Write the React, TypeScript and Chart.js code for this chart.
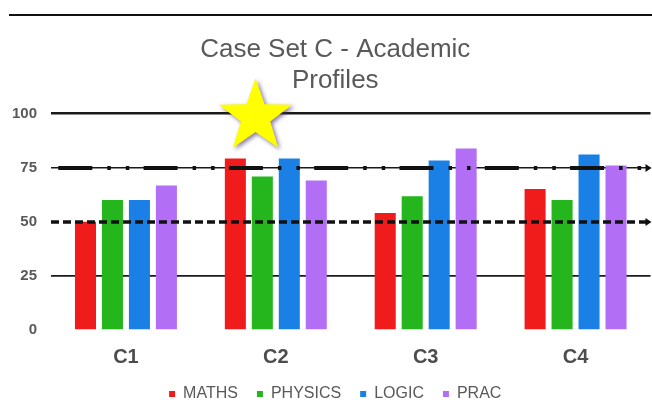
import React, { useEffect, useRef } from "react";
import { Chart, registerables } from "chart.js";

Chart.register(...registerables);

const TITLE_LINES = ["Case Set C - Academic", "Profiles"];
const CATEGORIES = ["C1", "C2", "C3", "C4"];
const SERIES_NAMES = ["MATHS", "PHYSICS", "LOGIC", "PRAC"];
const MATHS = [50, 79.2, 54, 65.1];
const PHYSICS = [60, 70.9, 61.7, 60];
const LOGIC = [60, 79.2, 78.2, 81];
const PRAC = [66.7, 69, 83.8, 75.9];
const Y_TICKS = [0, 25, 50, 75, 100];
const SOLID_GRID_VALUES = [25, 75, 100];
const TARGET_DASHDOT = 75;
const TARGET_DASHED = 50;
const STAR_CATEGORY = "C2";
const STAR_VALUE = 98.5;

const COLORS = ["#f01c1c", "#25b51c", "#1a80e6", "#b26ff5"];
const TEXT_GREY = "#595959";

function drawStar(ctx: CanvasRenderingContext2D, cx: number, cy: number, R: number) {
  const r = R * 0.4;
  ctx.beginPath();
  for (let i = 0; i < 10; i++) {
    const rad = i % 2 === 0 ? R : r;
    const a = -Math.PI / 2 + (i * Math.PI) / 5;
    const x = cx + rad * Math.cos(a);
    const y = cy + rad * Math.sin(a);
    if (i === 0) ctx.moveTo(x, y);
    else ctx.lineTo(x, y);
  }
  ctx.closePath();
}

const overlayPlugin = {
  id: "overlay",
  afterLayout(chart: any) {
    // let the y tick labels use the full left margin (no clipping)
    chart.scales.y.left = 0;
  },
  beforeDraw(chart: any) {
    const ctx = chart.ctx;
    ctx.save();
    ctx.fillStyle = "#ffffff";
    ctx.fillRect(0, 0, chart.width, chart.height);
    ctx.strokeStyle = "#111111";
    ctx.lineWidth = 2;
    ctx.beginPath();
    ctx.moveTo(9, 15);
    ctx.lineTo(chart.width, 15);
    ctx.stroke();
    ctx.restore();
  },
  afterDatasetsDraw(chart: any) {
    const ctx = chart.ctx;
    const y = chart.scales.y;
    const { left, right } = chart.chartArea;
    ctx.save();
    // dash-dot target line
    const y75 = Math.round(y.getPixelForValue(TARGET_DASHDOT));
    ctx.strokeStyle = "#111111";
    ctx.lineWidth = 4;
    ctx.setLineDash([34, 15, 3.5, 15, 3.5, 14.3]);
    ctx.lineDashOffset = 78;
    ctx.beginPath();
    ctx.moveTo(left, y75);
    ctx.lineTo(right - 4, y75);
    ctx.stroke();
    // dashed target line
    const y50 = Math.round(y.getPixelForValue(TARGET_DASHED));
    ctx.lineWidth = 3.5;
    ctx.setLineDash([8, 4]);
    ctx.lineDashOffset = 0;
    ctx.beginPath();
    ctx.moveTo(left, y50);
    ctx.lineTo(right - 4, y50);
    ctx.stroke();
    ctx.setLineDash([]);
    // arrow ends
    ctx.fillStyle = "#111111";
    [y75, y50].forEach((yy) => {
      ctx.beginPath();
      ctx.moveTo(right - 5, yy - 4);
      ctx.lineTo(right + 1, yy);
      ctx.lineTo(right - 5, yy + 4);
      ctx.closePath();
      ctx.fill();
    });
    ctx.restore();
  },
  afterDraw(chart: any) {
    const ctx = chart.ctx;
    const x = chart.scales.x;
    const y = chart.scales.y;
    const idx = CATEGORIES.indexOf(STAR_CATEGORY);
    const step = x.getPixelForValue(1) - x.getPixelForValue(0);
    const cx = x.getPixelForValue(idx) - step * 0.135;
    const cy = y.getPixelForValue(STAR_VALUE);
    ctx.save();
    ctx.shadowColor = "rgba(70,50,110,0.65)";
    ctx.shadowBlur = 4;
    ctx.shadowOffsetX = 2;
    ctx.shadowOffsetY = 2;
    ctx.fillStyle = "#ffff00";
    drawStar(ctx, cx, cy, 38.5);
    ctx.fill();
    ctx.restore();
  },
};

export default function App() {
  const canvasRef = useRef<HTMLCanvasElement | null>(null);

  useEffect(() => {
    if (!canvasRef.current) return;
    const seriesValues = [MATHS, PHYSICS, LOGIC, PRAC];
    const chart = new Chart(canvasRef.current, {
      type: "bar",
      data: {
        labels: CATEGORIES,
        datasets: SERIES_NAMES.map((name, i) => ({
          label: name,
          data: seriesValues[i],
          backgroundColor: COLORS[i],
          borderWidth: 0,
          categoryPercentage: 0.72,
          barPercentage: 0.78,
        })),
      },
      options: {
        responsive: false,
        animation: false,
        devicePixelRatio: 1,
        layout: { padding: { left: 20, right: 1.5, top: 0, bottom: 1 } },
        plugins: {
          title: {
            display: true,
            text: TITLE_LINES,
            color: TEXT_GREY,
            font: { family: "'Liberation Sans', Arial, sans-serif", size: 26, weight: "normal", lineHeight: 1.2 },
            padding: { top: 34, bottom: 17 },
          },
          legend: {
            position: "bottom",
            labels: {
              boxWidth: 6,
              boxHeight: 6,
              padding: 19,
              color: TEXT_GREY,
              font: { family: "'Liberation Sans', Arial, sans-serif", size: 16 },
            },
          },
          tooltip: { enabled: false },
        },
        scales: {
          x: {
            afterFit(scale: any) {
              scale.height = 37;
            },
            grid: { display: false, drawTicks: false },
            border: { display: false },
            ticks: {
              color: "#4d4d4d",
              padding: 15,
              font: { family: "'Liberation Sans', Arial, sans-serif", size: 20, weight: "bold" },
            },
          },
          y: {
            min: 0,
            max: 100,
            afterFit(scale: any) {
              scale.width = 31;
            },
            afterBuildTicks(scale: any) {
              scale.ticks = Y_TICKS.map((v) => ({ value: v }));
            },
            grid: {
              drawTicks: false,
              color: (c: any) =>
                SOLID_GRID_VALUES.includes(c.tick?.value) ? "#1a1a1a" : "rgba(0,0,0,0)",
              lineWidth: (c: any) =>
                c.tick?.value === 100 ? 2.5 : c.tick?.value === 25 ? 1.8 : 1.5,
            },
            border: { display: false },
            ticks: {
              color: TEXT_GREY,
              padding: 14,
              font: { family: "'Liberation Sans', Arial, sans-serif", size: 15, weight: "bold" },
            },
          },
        },
      },
      plugins: [overlayPlugin],
    });
    return () => chart.destroy();
  }, []);

  return (
    <div style={{ position: "fixed", left: 0, top: 0, width: 652, height: 413 }}>
      <canvas ref={canvasRef} width={652} height={413} />
    </div>
  );
}
